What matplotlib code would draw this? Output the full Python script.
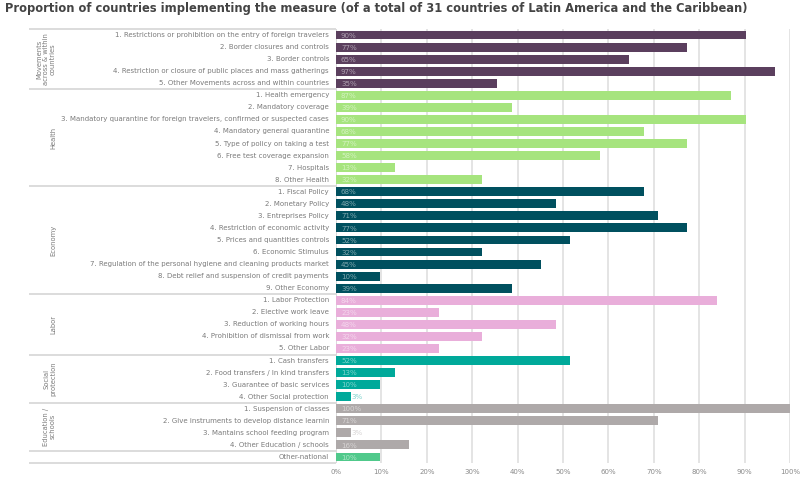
import matplotlib
matplotlib.use("Agg")
import matplotlib.pyplot as plt
import matplotlib.transforms as mtransforms
import matplotlib.colors as mcolors

# ---- data ----
groups = ["Movements\nacross & within\ncountries", "Health", "Economy", "Labor",
          "Social\nprotection", "Education /\nschools", ""]
group_colors = ["#5B3F5E", "#A6E47E", "#00505F", "#E9AEDA", "#00A99A", "#AEA9A9", "#50C98B"]

movements_labels = ["1. Restrictions or prohibition on the entry of foreign travelers",
                    "2. Border closures and controls",
                    "3. Border controls",
                    "4. Restriction or closure of public places and mass gatherings",
                    "5. Other Movements across and within countries"]
movements_values = [90.32, 77.42, 64.52, 96.77, 35.48]

health_labels = ["1. Health emergency",
                 "2. Mandatory coverage",
                 "3. Mandatory quarantine for foreign travelers, confirmed or suspected cases",
                 "4. Mandatory general quarantine",
                 "5. Type of policy on taking a test",
                 "6. Free test coverage expansion",
                 "7. Hospitals",
                 "8. Other Health"]
health_values = [87.10, 38.71, 90.32, 67.74, 77.42, 58.06, 12.90, 32.26]

economy_labels = ["1. Fiscal Policy",
                  "2. Monetary Policy",
                  "3. Entreprises Policy",
                  "4. Restriction of economic activity",
                  "5. Prices and quantities controls",
                  "6. Economic Stimulus",
                  "7. Regulation of the personal hygiene and cleaning products market",
                  "8. Debt relief and suspension of credit payments",
                  "9. Other Economy"]
economy_values = [67.74, 48.39, 70.97, 77.42, 51.61, 32.26, 45.16, 9.68, 38.71]

labor_labels = ["1. Labor Protection",
                "2. Elective work leave",
                "3. Reduction of working hours",
                "4. Prohibition of dismissal from work",
                "5. Other Labor"]
labor_values = [83.87, 22.58, 48.39, 32.26, 22.58]

social_labels = ["1. Cash transfers",
                 "2. Food transfers / In kind transfers",
                 "3. Guarantee of basic services",
                 "4. Other Social protection"]
social_values = [51.61, 12.90, 9.68, 3.23]

education_labels = ["1. Suspension of classes",
                    "2. Give instruments to develop distance learnin",
                    "3. Mantains school feeding program",
                    "4. Other Education / schools"]
education_values = [100.0, 70.97, 3.23, 16.13]

other_labels = ["Other-national"]
other_values = [9.68]

x_ticks = [0, 10, 20, 30, 40, 50, 60, 70, 80, 90, 100]
x_tick_labels = [f"{t}%" for t in x_ticks]

title = "Proportion of countries implementing the measure (of a total of 31 countries of Latin America and the Caribbean)"

group_labels = [movements_labels, health_labels, economy_labels, labor_labels,
                social_labels, education_labels, other_labels]
group_values = [movements_values, health_values, economy_values, labor_values,
                social_values, education_values, other_values]

# ---- figure ----
W, H = 805, 484
fig = plt.figure(figsize=(W / 100, H / 100), dpi=100)
L, R, T, B = 336, 790, 29, 463
ax = fig.add_axes([L / W, 1 - B / H, (R - L) / W, (B - T) / H])

font = "DejaVu Sans"
label_color = "#7b7b7b"
grid_color = "#e2e2e2"
sep_color = "#d9d9d9"

def px_to_ax(px):
    return (px - L) / (R - L)

trans = mtransforms.blended_transform_factory(ax.transAxes, ax.transData)

def lighten(c, amt=0.5):
    r, g, b = mcolors.to_rgb(c)
    return (r + (1 - r) * amt, g + (1 - g) * amt, b + (1 - b) * amt)

row = 0
boundaries = [-0.5]
for gi, (labs, vals) in enumerate(zip(group_labels, group_values)):
    start = row
    col = group_colors[gi]
    ys = list(range(row, row + len(vals)))
    ax.barh(ys, vals, height=0.74, color=col, zorder=3)
    for y, lab, v in zip(ys, labs, vals):
        ax.text(px_to_ax(329), y, lab, transform=trans, ha="right", va="center",
                fontsize=5.0, color=label_color, family=font)
        txt = f"{int(v + 0.5)}%"
        if v < 6:
            xpos = v + 0.2
        else:
            xpos = 1.1
        ax.text(xpos, y + 0.05, txt, ha="left", va="center", fontsize=5.1,
                color=lighten(col, 0.5), family=font, zorder=4)
    row += len(vals)
    boundaries.append(row - 0.5)
    if groups[gi]:
        ax.text(px_to_ax(56), (start + row - 1) / 2, groups[gi], transform=trans,
                rotation=90, ha="right", va="center", fontsize=4.9,
                color=label_color, family=font, multialignment="center",
                linespacing=1.15)

n = row
for b in boundaries:
    ax.plot([px_to_ax(29), 0], [b, b], transform=trans, color=sep_color, lw=1.3,
            clip_on=False, zorder=2, solid_capstyle="butt")

ax.set_ylim(n - 0.5, -0.5)
ax.set_xlim(0, 100)
ax.set_xticks(x_ticks)
ax.set_xticklabels(x_tick_labels, fontsize=5.0, color="#8a8a8a", family=font)
ax.set_yticks([])
ax.tick_params(axis="x", length=0, pad=4)
for s in ax.spines.values():
    s.set_visible(False)
for t in x_ticks:
    ax.axvline(t, color=grid_color, lw=1.3, zorder=1)
ax.axvline(0, color=sep_color, lw=1.3, zorder=1)

fig.text(5 / W, 1 - 8.5 / H, title, ha="left", va="center", fontsize=8.3,
         fontweight="bold", color="#444444", family=font)

fig.savefig("out.png", dpi=100, facecolor="white")
